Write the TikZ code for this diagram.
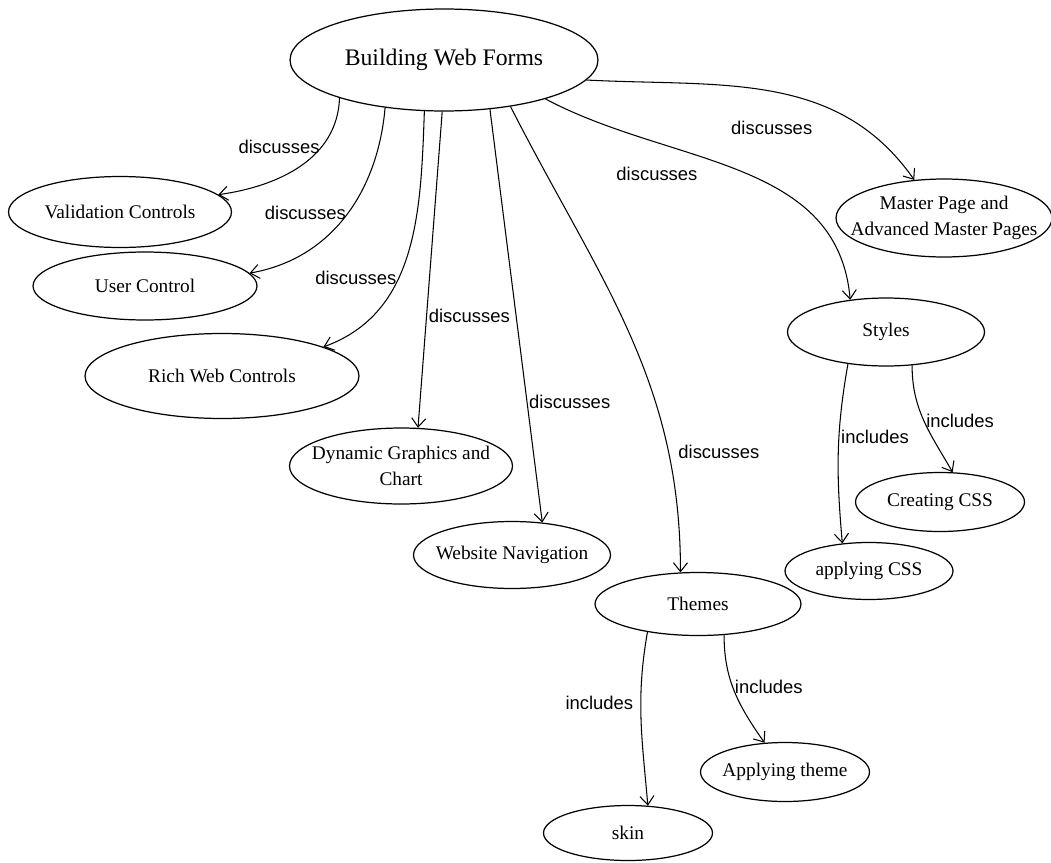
\documentclass[tikz,border=0pt]{standalone}
\usepackage{fontspec}
\setmainfont{Liberation Serif}
\setsansfont{Liberation Sans}
\usetikzlibrary{shapes.geometric, arrows.meta}

\tikzset{
  topic/.style={ellipse, draw, line width=0.7pt, inner sep=0pt, align=center,
    font=\fontsize{11}{14.5}\selectfont},
  link/.style={line width=0.6pt, -{Straight Barb[length=5pt,width=8pt]}},
  lbl/.style={font=\sffamily\fontsize{10.5}{12}\selectfont, inner sep=1pt}
}

\begin{document}
\begin{tikzpicture}[x=0.02cm, y=-0.02cm]
  \useasboundingbox (0,0) rectangle (1051,862);
  % Nodes
  \node[topic, minimum width=6.16cm, minimum height=2.04cm, font=\fontsize{13.5}{16}\selectfont] (bwf) at (444,60) {Building Web Forms};
  \node[topic, minimum width=4.46cm, minimum height=1.42cm] (valid) at (120,212) {Validation Controls};
  \node[topic, minimum width=4.48cm, minimum height=1.36cm] (userctl) at (145,286) {User Control};
  \node[topic, minimum width=5.48cm, minimum height=1.70cm] (richweb) at (222,376) {Rich Web Controls};
  \node[topic, minimum width=4.46cm, minimum height=1.52cm, inner xsep=-6pt] (dyngfx) at (401,466) {Dynamic Graphics and\\Chart};
  \node[topic, minimum width=3.94cm, minimum height=1.34cm, inner xsep=-5pt] (webnav) at (512,555) {Website Navigation};
  \node[topic, minimum width=4.12cm, minimum height=1.26cm] (themes) at (698,604) {Themes};
  \node[topic, minimum width=3.38cm, minimum height=1.10cm] (skin) at (628,833) {skin};
  \node[topic, minimum width=3.38cm, minimum height=1.18cm, inner xsep=-2pt] (applytheme) at (785,772) {Applying theme};
  \node[topic, minimum width=4.32cm, minimum height=1.56cm, inner xsep=-11pt] (master) at (944,218) {Master Page and\\Advanced Master Pages};
  \node[topic, minimum width=3.94cm, minimum height=1.36cm] (styles) at (886,332) {Styles};
  \node[topic, minimum width=3.38cm, minimum height=1.18cm] (creatcss) at (940,502) {Creating CSS};
  \node[topic, minimum width=3.36cm, minimum height=1.14cm] (applycss) at (869,571) {applying CSS};

  % Connections
  \draw[link] (bwf.200) to[out=-92, in=8] node[lbl, pos=0.32, left] {discusses} (valid.10);
  \draw[link] (bwf.219) to[out=-95, in=10] node[lbl, pos=0.48, left] {discusses} (userctl.7);
  \draw[link] (bwf.249) to[out=-92, in=20] node[lbl, pos=0.6, left] {discusses} (richweb.16);
  \draw[link] (bwf.268) -- node[lbl, pos=0.645, right] {discusses} (dyngfx.66);
  \draw[link] (bwf.313) -- node[lbl, pos=0.707, right] {discusses} (webnav.47);
  \draw[link] (bwf.325) to[out=-63, in=90] node[lbl, pos=0.76, right, xshift=5pt, yshift=-3pt] {discusses} (themes.119);
  \draw[link] (bwf.339) to[out=-28, in=95] node[lbl, pos=0.39, below left, yshift=-5pt] {discusses} (styles.138);
  \draw[link] (bwf.352) to[out=-3, in=125] node[lbl, pos=0.5, below=0.55cm] {discusses} (master.128);
  \draw[link] (styles.220) to[out=-100, in=95] node[lbl, pos=0.4, right] {includes} (applycss.134);
  \draw[link] (styles.308) to[out=-90, in=120] node[lbl, pos=0.5, right] {includes} (creatcss.67);
  \draw[link] (themes.209) to[out=-100, in=95] node[lbl, pos=0.4, left, xshift=-3pt] {includes} (skin.54);
  \draw[link] (themes.310) to[out=-90, in=125] node[lbl, pos=0.45, right] {includes} (applytheme.125);
\end{tikzpicture}
\end{document}
